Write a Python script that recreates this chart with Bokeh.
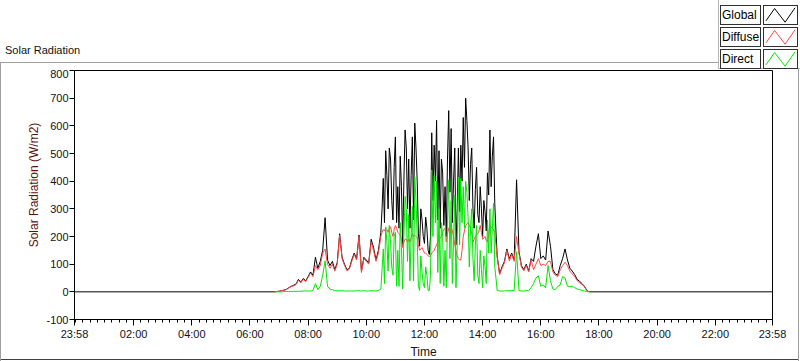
from bokeh.plotting import figure
from bokeh.layouts import column
from bokeh.models import Range1d, FixedTicker, Div
from bokeh.embed import file_html
from bokeh.resources import INLINE

# ---------------- data (minutes after midnight, W/m2) ----------------
minutes = [410, 415, 420, 425, 430, 435, 440, 445, 450, 455,
           460, 465, 470, 475, 480, 485, 490, 495, 500, 505,
           510, 515, 520, 525, 530, 535, 540, 545, 550, 555,
           560, 565, 570, 575, 580, 585, 590, 595, 600, 605,
           610, 615, 620, 625,
           630, 632.5, 635, 637.5, 640, 642.5, 645, 647.5, 650, 652.5,
           655, 657.5, 660, 662.5, 665, 667.5, 670, 672.5, 675, 677.5,
           680, 682.5, 685, 687.5, 690, 692.5, 695, 697.5, 700, 702.5,
           705, 707.5, 710, 712.5, 715, 717.5, 720, 722.5, 725, 727.5,
           730, 732.5, 735, 737.5, 740, 742.5, 745, 747.5, 750, 752.5,
           755, 757.5, 760, 762.5, 765, 767.5, 770, 772.5, 775, 777.5,
           780, 782.5, 785, 787.5, 790, 792.5, 795, 797.5, 800, 802.5,
           805, 807.5, 810, 812.5, 815, 817.5, 820, 822.5, 825, 827.5,
           830, 832.5, 835, 837.5, 840, 842.5, 845, 847.5, 850, 852.5,
           855, 857.5, 860, 862.5, 865, 867.5, 870,
           875, 880, 885, 890, 895, 900, 905,
           910, 915, 920, 925, 930, 935, 940, 945, 950, 955,
           960, 965, 970, 975, 980, 985, 990, 995, 1000, 1005,
           1010, 1015, 1020, 1025, 1030, 1035, 1040, 1045, 1050, 1055,
           1060]

global_rad = [0, 1, 2, 4, 6, 9, 15, 20, 24, 28,
              45, 35, 48, 40, 55, 72, 60, 125, 85, 110,
              150, 268, 115, 95, 110, 80, 105, 210, 125, 100,
              80, 85, 115, 140, 120, 205, 75, 125, 115, 105,
              190, 160, 115, 150,
              215, 300, 410, 250, 510, 420, 300, 520, 480, 330,
              260, 450, 560, 250, 380, 230, 490, 380, 170, 400,
              585, 520, 300, 480, 230, 420, 560, 260, 610, 520,
              400, 210, 165, 300, 260, 200, 175, 270, 230, 150,
              135, 200, 575, 330, 530, 400, 620, 260, 510, 230,
              480, 430, 240, 380, 200, 480, 655, 360, 590, 250,
              400, 520, 170, 300, 520, 290, 530, 400, 630, 450,
              700, 620, 520, 330, 460, 520, 300, 230, 370, 450,
              280, 250, 380, 300, 200, 330, 290, 220, 430, 350,
              585, 380, 490, 560, 320, 220, 130,
              65, 90, 110, 155, 120, 140, 115,
              405, 145, 95, 80, 100, 75, 120, 110, 165, 210,
              120, 130, 115, 220, 165, 80, 65, 60, 95, 120,
              155, 115, 85, 75, 62, 45, 38, 30, 20, 5,
              0]

diffuse_rad = [0, 1, 2, 4, 6, 8, 14, 19, 22, 26,
               42, 33, 45, 37, 52, 68, 55, 95, 80, 95,
               140, 155, 100, 85, 100, 75, 100, 205, 120, 96,
               76, 82, 110, 135, 115, 200, 70, 120, 110, 100,
               180, 150, 110, 140,
               200, 215, 225, 220, 230, 225, 215, 230, 235, 215,
               200, 225, 240, 230, 215, 210, 205, 190, 160, 180,
               190, 190, 180, 190, 180, 195, 210, 200, 205, 200,
               195, 170, 150, 155, 160, 150, 140, 140, 135, 130,
               128, 130, 140, 145, 150, 160, 170, 180, 190, 195,
               200, 215, 225, 230, 180, 210, 230, 235, 240, 220,
               200, 170, 150, 130, 120, 115, 115, 150, 200, 220,
               240, 245, 250, 240, 230, 210, 180, 190, 200, 205,
               210, 220, 240, 215, 190, 195, 200, 185, 180, 210,
               240, 235, 230, 225, 215, 170, 125,
               62, 85, 105, 150, 112, 135, 110,
               200, 138, 90, 76, 95, 72, 115, 80, 100, 120,
               95, 100, 95, 110, 110, 72, 60, 55, 80, 95,
               107, 95, 75, 65, 55, 40, 33, 27, 18, 5,
               0]

direct_rad = [0, 0, 0, 0, 1, 1, 1, 1, 2, 2,
              2, 2, 3, 3, 3, 3, 5, 30, 8, 20,
              60, 112, 20, 10, 8, 4, 4, 4, 4, 3,
              3, 3, 3, 3, 4, 4, 3, 4, 3, 3,
              4, 4, 3, 5,
              10, 80, 155, 30, 235, 180, 75, 240, 180, 90,
              60, 200, 215, 20, 150, 20, 250, 160, 10, 200,
              345, 300, 110, 280, 40, 200, 310, 40, 415, 330,
              200, 20, 5, 130, 70, 30, 15, 90, 60, 5,
              5, 60, 440, 200, 420, 250, 400, 70, 300, 30,
              250, 200, 20, 150, 15, 260, 405, 120, 330, 30,
              190, 350, 15, 170, 415, 170, 410, 250, 380, 230,
              400, 360, 270, 90, 230, 300, 120, 40, 170, 240,
              60, 30, 150, 80, 15, 130, 90, 30, 260, 140,
              300, 140, 230, 320, 90, 50, 5,
              3, 3, 3, 4, 4, 5, 5,
              145, 5, 3, 3, 4, 4, 15, 30, 50, 58,
              20, 25, 15, 95, 40, 10, 8, 20, 25, 55,
              50, 20, 20, 20, 15, 10, 8, 5, 3, 1,
              0]

day_start, day_end = -2, 1438          # 23:58 .. 23:58
night_level = 0
tick_minutes = [-2, 120, 240, 360, 480, 600, 720, 840, 960, 1080, 1200, 1320, 1438]
tick_labels = ["23:58", "02:00", "04:00", "06:00", "08:00", "10:00", "12:00",
               "14:00", "16:00", "18:00", "20:00", "22:00", "23:58"]
y_ticks = [-100, 0, 100, 200, 300, 400, 500, 600, 700, 800]
y_tick_labels = ["-100", "0", "100", "200", "300", "400", "500", "600", "700", "800"]
series_names = ["Global", "Diffuse", "Direct"]
series_colors = ["#000000", "#ff4646", "#00e600"]
chart_title = "Solar Radiation"
y_title = "Solar Radiation (W/m2)"
x_title = "Time"

FONT = "Liberation Sans"
W = 800
HEAD_H = 69
MAIN_H = 292

# ---------------- header (title + legend) as HTML ----------------
parts = [
    f'<div style="position:relative;width:{W}px;height:{HEAD_H}px;overflow:hidden;'
    f'font-family:\'{FONT}\';background:#ffffff;">',
    f'<span style="position:absolute;left:5px;top:44px;font-size:11px;line-height:13px;'
    f'color:#111111;white-space:nowrap;">{chart_title}</span>',
    '<div style="position:absolute;left:0px;top:62px;width:718px;height:0px;'
    'border-top:1px solid #a0a0a0;"></div>',
    '<div style="position:absolute;left:0px;top:62px;width:0px;height:8px;'
    'border-left:1px solid #a0a0a0;"></div>',
    '<div style="position:absolute;left:718px;top:0px;width:82px;height:69px;box-sizing:border-box;'
    'border-left:1px solid #b4b4b4;border-bottom:1px solid #b4b4b4;background:#ffffff;"></div>',
]
zig = [(0.06, 0.82), (0.32, 0.14), (0.64, 0.90), (0.94, 0.10)]
for i, (name, color) in enumerate(zip(series_names, series_colors)):
    top = 5 + 22 * i
    parts.append(
        f'<div style="position:absolute;left:720px;top:{top}px;width:41px;height:20px;'
        f'box-sizing:border-box;border:1px solid #303030;background:#ffffff;font-size:12px;'
        f'line-height:18px;padding-left:1px;color:#000000;white-space:nowrap;">{name}</div>')
    pts = " ".join(f"{fx * 33:.1f},{fy * 18:.1f}" for fx, fy in zig)
    parts.append(
        f'<div style="position:absolute;left:763px;top:{top}px;width:35px;height:20px;'
        f'box-sizing:border-box;border:1px solid #303030;background:#ffffff;">'
        f'<svg width="33" height="18" style="display:block;">'
        f'<polyline points="{pts}" fill="none" stroke="{color}" stroke-width="1"/></svg></div>')
parts.append('</div>')
header = Div(text="".join(parts), width=W, height=HEAD_H, margin=(0, 0, 0, 0))

# ---------------- main chart ----------------
p = figure(width=W, height=MAIN_H, x_range=Range1d(day_start, day_end), y_range=Range1d(-100, 800),
           output_backend="svg", toolbar_location=None,
           min_border_left=74, min_border_right=28, min_border_top=1, min_border_bottom=39,
           margin=(0, 0, 0, 0))
p.background_fill_color = "white"
p.border_fill_color = None
p.styles = {
    "background-color": "#ffffff",
    "box-shadow": ("inset 1px 0 0 #a0a0a0, inset -1px 0 0 #ffffff, inset -2px 0 0 #a0a0a0, "
                   "inset 0 -1px 0 #ffffff, inset 0 -2px 0 #404040"),
}
p.outline_line_color = "#000000"
p.xgrid.visible = False
p.ygrid.visible = False

minor = [m for m in range(0, 1440, 15) if (m % 120 != 0 or m == 0)]
xa = p.xaxis[0]
xa.ticker = FixedTicker(ticks=tick_minutes, minor_ticks=minor)
xa.major_label_overrides = dict(zip(tick_minutes, tick_labels))
xa.major_tick_out = 6
xa.major_tick_in = 0
xa.minor_tick_out = 3
xa.minor_tick_in = 0
xa.major_label_standoff = 2
xa.major_label_text_font = FONT
xa.major_label_text_font_size = "11px"
xa.major_label_text_color = "#111122"
xa.axis_line_color = "black"
xa.axis_label = x_title
xa.axis_label_text_font = FONT
xa.axis_label_text_font_size = "12px"
xa.axis_label_text_font_style = "normal"
xa.axis_label_text_color = "#1a1410"
xa.axis_label_standoff = 2

ya = p.yaxis[0]
ya.ticker = FixedTicker(ticks=y_ticks)
ya.major_label_overrides = dict(zip(y_ticks, y_tick_labels))
ya.minor_tick_line_color = None
ya.major_tick_out = 5
ya.major_tick_in = 0
ya.major_label_standoff = 1
ya.major_label_text_font = FONT
ya.major_label_text_font_size = "11px"
ya.major_label_text_color = "#111122"
ya.axis_label = "\u00a0" * 6 + y_title
ya.axis_label_text_font = FONT
ya.axis_label_text_font_size = "12px"
ya.axis_label_text_font_style = "normal"
ya.axis_label_text_color = "#5a1410"
ya.axis_label_standoff = 2
ya.axis_line_color = "black"

p.line([day_start] + minutes + [day_end], [night_level] + global_rad + [night_level],
       line_color=series_colors[0], line_width=1)
p.line(minutes, diffuse_rad, line_color=series_colors[1], line_width=1)
p.line(minutes, direct_rad, line_color=series_colors[2], line_width=1)

layout = column(header, p, spacing=0)
open("out.html", "w").write(file_html(layout, INLINE))
